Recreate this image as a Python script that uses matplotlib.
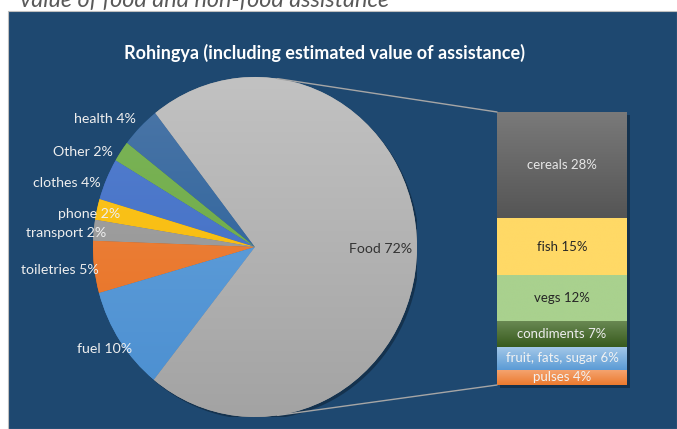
import numpy as np
import matplotlib
matplotlib.use("Agg")
import matplotlib.pyplot as plt
from matplotlib.patches import Rectangle, Ellipse, ConnectionPatch
from matplotlib.colors import LinearSegmentedColormap

plt.rcParams["font.family"] = ["Lato", "DejaVu Sans"]

# pie data (counter-clockwise from the health slice)
pie_labels = ["health", "Other", "clothes", "phone", "transport", "toiletries", "fuel", "Food"]
pie_values = [4, 2, 4, 2, 2, 5, 10, 72]
pie_top = ["#4D77A8", "#7DB55A", "#5580D0", "#FFC826", "#A8A8A8", "#F08A4B", "#6AA6DE", "#C2C2C2"]
pie_bottom = ["#1E5A96", "#68A63E", "#3C69C0", "#F2B500", "#8E8E8E", "#E66E1C", "#4A8ED0", "#A3A3A3"]

# food breakdown (bar, bottom to top)
food_labels = ["pulses", "fruit, fats, sugar", "condiments", "vegs", "fish", "cereals"]
food_values = [4, 6, 7, 12, 15, 28]
food_top = ["#F5A673", "#A2C7E8", "#6B8A55", "#A9D18E", "#FFD966", "#7A7A7A"]
food_bottom = ["#EC7A2E", "#5B9BD5", "#375A1C", "#A9D18E", "#FFD966", "#555555"]
food_text = ["#F2F2F2", "#F2F2F2", "#EDEDED", "#262626", "#262626", "#E6E6E6"]

W, H = 677, 429
BG = "#1E4870"


def fx(px):
    return px / W


def fy(py):
    return 1 - py / H


def shade(ax, patch, c_top, c_bot, extent):
    cmap = LinearSegmentedColormap.from_list("g", [c_bot, c_top])
    grad = np.linspace(0, 1, 256).reshape(-1, 1)
    im = ax.imshow(grad, cmap=cmap, extent=extent, origin="lower",
                   aspect="auto", zorder=patch.get_zorder() + 0.1)
    im.set_clip_path(patch)


fig = plt.figure(figsize=(W / 100, H / 100), dpi=100)
fig.patch.set_facecolor("white")

# dark panel
fig.patches.append(Rectangle((fx(8), 0), 1 - fx(8), fy(11), transform=fig.transFigure,
                             facecolor=BG, edgecolor="#BFBFBF", lw=0.8, zorder=-10))

fig.text(fx(20), fy(7), "value of food and non-food assistance", style="italic",
         fontsize=16.8, color="#595959", va="baseline", ha="left")
fig.text(fx(325), fy(53), "Rohingya (including estimated value of assistance)",
         fontsize=13, fontweight="bold", color="white", ha="center", va="center")

# pie (elliptical, as in the source)
axp = fig.add_axes([fx(93), fy(417), fx(417) - fx(93), fy(77) - fy(417)])
axp.add_patch(Ellipse((0.015, -0.015), 2.0, 2.0, facecolor="black", alpha=0.3, zorder=0))
wedges, _ = axp.pie(pie_values, startangle=128, counterclock=True,
                    wedgeprops=dict(linewidth=0))
axp.set_aspect("auto")
for w, ct, cb in zip(wedges, pie_top, pie_bottom):
    w.set_facecolor(cb)
    shade(axp, w, ct, cb, (-1, 1, -1, 1))
axp.set_xlim(-1, 1)
axp.set_ylim(-1, 1)
axp.axis("off")

# label anchors in pie coordinates (right aligned outside, centred for Food)
label_pos = [(-0.735, 0.753), (-0.877, 0.559), (-0.951, 0.376), (-0.833, 0.194),
             (-0.920, 0.082), (-0.963, -0.135), (-0.759, -0.600), (0.772, -0.012)]
for lab, val, (x, y) in zip(pie_labels, pie_values, label_pos):
    if lab == "Food":
        axp.text(x, y, f"{lab} {val}%", ha="center", va="center",
                 fontsize=10.2, color="#333333", zorder=5)
    else:
        axp.text(x, y, f"{lab} {val}%", ha="right", va="center",
                 fontsize=10.2, color="#EEEEEE", zorder=5)

# stacked bar of food components
axb = fig.add_axes([fx(497), fy(385), fx(627) - fx(497), fy(112) - fy(385)])
axb.add_patch(Rectangle((-0.5 + 0.02, -0.7), 1.0, sum(food_values), facecolor="black",
                        alpha=0.3, zorder=0, clip_on=False))
bottom = 0
for lab, val, ct, cb, tc in zip(food_labels, food_values, food_top, food_bottom, food_text):
    bars = axb.bar(0, val, width=1, bottom=bottom, color=cb, linewidth=0, zorder=1)
    shade(axb, bars[0], ct, cb, (-0.5, 0.5, bottom, bottom + val))
    axb.text(0, bottom + val / 2, f"{lab} {val}%", ha="center", va="center",
             fontsize=9.5, color=tc, zorder=5)
    bottom += val
axb.set_xlim(-0.5, 0.5)
axb.set_ylim(0, sum(food_values))
axb.axis("off")

# connector lines from the pie to the bar
ang = np.deg2rad(82)
for sgn, ybar in [(1, sum(food_values)), (-1, 0)]:
    con = ConnectionPatch(xyA=(np.cos(ang), sgn * np.sin(ang)), coordsA=axp.transData,
                          xyB=(-0.5, ybar), coordsB=axb.transData,
                          color="#A6A6A6", lw=1)
    fig.add_artist(con)

fig.savefig("out.png", dpi=100)
